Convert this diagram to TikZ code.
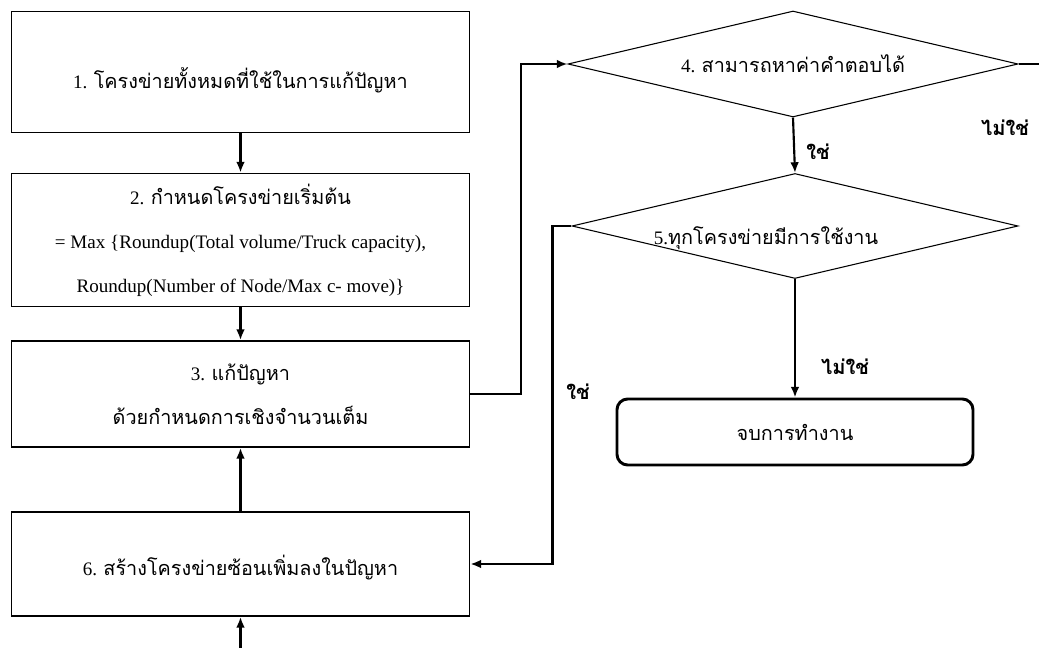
\documentclass[tikz,border=0pt]{standalone}
\usepackage{fontspec}
\setmainfont{Liberation Serif}
\newfontfamily\thai[Script=Thai,Scale=1.04]{Loma}
\usetikzlibrary{shapes.geometric,arrows.meta}
\begin{document}
\begin{tikzpicture}[x=0.75pt,y=-0.75pt,
  txt/.style={font={\fontsize{14.3pt}{33pt}\selectfont},align=center,inner sep=0pt},
  box/.style={draw,line width=1.3pt,minimum width=343.5pt,inner sep=0pt,txt},
  decision/.style={draw,diamond,line width=0.8pt,shape aspect=4.25,inner sep=0pt,txt},
  endbox/.style={draw,line width=2.2pt,rounded corners=8pt,minimum width=267pt,minimum height=49.5pt,txt},
  conn/.style={line width=1.6pt},
  tip/.style={-{Latex[length=8pt,width=6.5pt]}},
  answer/.style={font={\fontsize{14.5pt}{16pt}\selectfont\thai\bfseries},inner sep=0pt}]
\useasboundingbox (0,0) rectangle (1039,648);

% process boxes on the left
\node[box,minimum height=90.75pt] (b1) at (240.5,72) {};
\node[txt] (t1) at (240.5,80) {1. {\thai โครงข่ายทั้งหมดที่ใช้ในการแก้ปัญหา}};
\node[box,minimum height=99.75pt] (b2) at (240.5,240)
  {2. {\thai กำหนดโครงข่ายเริ่มต้น}\\
   = Max \{Roundup(Total volume/Truck capacity),\\
   Roundup(Number of Node/Max c- move)\}};
\node[box,minimum height=79.5pt] (b3) at (240.5,394)
  {3. {\thai แก้ปัญหา}\\{\thai ด้วยกำหนดการเชิงจำนวนเต็ม}};
\node[box,minimum height=78pt] (b6) at (240.5,564) {};
\node[txt] (t6) at (240.5,568) {6. {\thai สร้างโครงข่ายซ้อนเพิ่มลงในปัญหา}};

% decisions and end box on the right
\node[decision,minimum width=337.5pt,minimum height=79.5pt] (d4) at (793,64)
  {4. {\thai สามารถหาค่าคำตอบได้}};
\node[decision,minimum width=334.5pt,minimum height=78.75pt] (d5) at (795,226) {};
\node[txt] (t5) at (766,238) {5.{\thai ทุกโครงข่ายมีการใช้งาน}};
\node[endbox] (end) at (795,432) {\thai จบการทำงาน};

% branch labels
\node[answer] (y4) at (818,152) {ใช่};
\node[answer] (n4) at (1005,128) {ไม่ใช่};
\node[answer] (y5) at (578,392) {ใช่};
\node[answer] (n5) at (845,367) {ไม่ใช่};

% free ends of the connectors
\coordinate (entry) at (240.5,660);
\coordinate (exit) at (1045,64);

% connectors
\draw[conn,tip] (b1) -- (b2);
\draw[conn,tip] (b2) -- (b3);
\draw[conn,tip] (b6) -- (b3);
\draw[conn,tip] (entry) -- (b6);
\draw[conn,tip] (b3.east) -- ++(51,0) |- (d4.west);
\draw[conn] (d4.east) -- (exit);
\draw[conn,tip] (d4.south) -- (d5.north);
\draw[conn,tip] (d5.south) -- (end.north);
\draw[conn,tip] (d5.west) -- ++(-19,0) |- (b6.east);
\end{tikzpicture}
\end{document}
